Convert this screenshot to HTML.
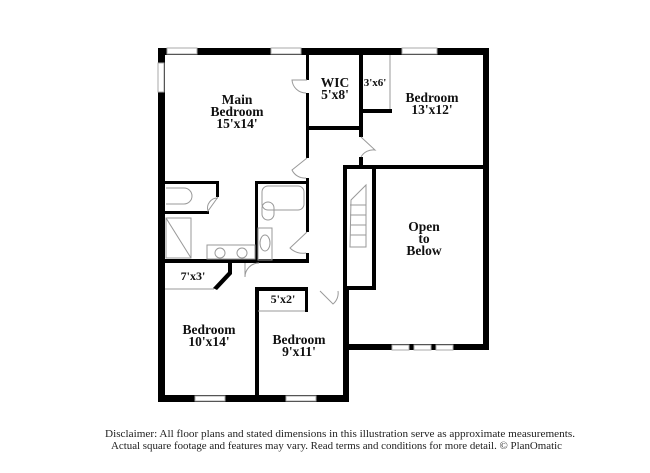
<!DOCTYPE html>
<html><head><meta charset="utf-8"><style>
html,body{margin:0;padding:0;background:#fff;width:650px;height:473px;overflow:hidden}
svg{display:block}
text{font-family:"Liberation Serif",serif}
.l{font-weight:bold;font-size:13.5px;fill:#111;text-anchor:middle}
</style></head><body>
<svg width="650" height="473" viewBox="0 0 650 473" xmlns="http://www.w3.org/2000/svg">
<g fill="#000">
<rect x="158" y="48" width="331" height="7"/>
<rect x="158" y="48" width="7" height="354"/>
<rect x="483" y="48" width="6" height="302"/>
<rect x="343" y="344" width="146" height="6"/>
<rect x="343" y="288" width="6" height="114"/>
<rect x="158" y="395" width="191" height="7"/>
<rect x="306" y="55" width="3" height="25"/>
<rect x="306" y="93" width="3" height="65"/>
<rect x="306" y="178" width="3" height="54"/>
<rect x="306" y="253" width="3" height="10"/>
<rect x="306" y="126" width="56" height="4"/>
<rect x="359" y="55" width="4" height="82"/>
<rect x="359" y="157" width="4" height="10"/>
<rect x="362" y="109" width="30" height="4"/>
<rect x="343" y="165" width="145" height="4"/>
<rect x="343" y="167" width="4" height="123"/>
<rect x="372" y="167" width="4" height="123"/>
<rect x="343" y="286" width="33" height="4"/>
<rect x="165" y="181" width="54" height="3"/>
<rect x="216" y="181" width="3" height="16"/>
<rect x="165" y="211" width="44" height="3"/>
<rect x="255" y="181" width="53" height="3"/>
<rect x="255" y="181" width="3" height="82"/>
<rect x="165" y="259" width="143" height="4"/>
<rect x="228" y="262" width="4" height="12"/>
<polygon points="228,272 232,274 217,290 213,288"/>
<rect x="255" y="288" width="4" height="112"/>
<rect x="255" y="287" width="53" height="4"/>
<rect x="305" y="287" width="3" height="25"/>
</g>
<g fill="#fff" stroke="#aaa" stroke-width="1">
<rect x="167" y="48" width="30" height="6"/>
<rect x="271" y="48" width="30" height="6"/>
<rect x="402" y="48" width="35" height="6"/>
<rect x="158" y="63" width="6" height="29"/>
<rect x="392" y="345" width="17" height="5"/>
<rect x="414" y="345" width="17" height="5"/>
<rect x="436" y="345" width="17" height="5"/>
<rect x="195" y="396" width="30" height="5"/>
<rect x="286" y="396" width="30" height="5"/>
</g>
<g fill="none" stroke="#999" stroke-width="1">
<line x1="390" y1="55" x2="390" y2="109"/>
<line x1="165" y1="289" x2="214" y2="289"/>
<line x1="258" y1="311" x2="305" y2="311"/>
<path d="M307 80 L292 80 A14 14 0 0 0 306 93"/>
<path d="M307 158 L292 170 A14 14 0 0 0 306 178"/>
<path d="M307 232 L290 248 A18 18 0 0 0 306 253"/>
<path d="M361 137 L375 150 A14 14 0 0 0 361 157"/>
<path d="M218 197 L208 211 A10 10 0 0 1 218 198"/>
<path d="M245 263 L245 277 A14 14 0 0 1 259 263"/>
<path d="M320 291 L333 304 A14 14 0 0 0 338 291"/>
<rect x="166" y="218" width="25" height="40"/>
<line x1="166" y1="218" x2="191" y2="258"/>
<rect x="207" y="245" width="48" height="14"/>
<circle cx="220" cy="253" r="5"/>
<circle cx="242" cy="253" r="5"/>
<rect x="262" y="186" width="42" height="24" rx="6"/>
<path d="M262 208 a6 6 0 0 1 12 0 v6 a6 6 0 0 1 -12 0z"/>
<rect x="258" y="228" width="14" height="32"/>
<ellipse cx="265" cy="243" rx="5" ry="8"/>
<path d="M166 188 h18 a8 8 0 0 1 0 16 h-18"/>
<path d="M351 200 L366 185 L366 247 L350 247 Z"/>
<line x1="350" y1="205" x2="366" y2="205"/><line x1="350" y1="215" x2="366" y2="215"/>
<line x1="350" y1="225" x2="366" y2="225"/><line x1="350" y1="235" x2="366" y2="235"/>
</g>
<text class="l" x="237" y="104">Main</text>
<text class="l" x="237" y="116">Bedroom</text>
<text class="l" x="237" y="128">15'x14'</text>
<text class="l" x="335" y="87">WIC</text>
<text class="l" x="335" y="99">5'x8'</text>
<text class="l" x="375" y="86" style="font-size:11px">3'x6'</text>
<text class="l" x="432" y="102">Bedroom</text>
<text class="l" x="432" y="114">13'x12'</text>
<text class="l" x="424" y="231">Open</text>
<text class="l" x="424" y="243">to</text>
<text class="l" x="424" y="255">Below</text>
<text class="l" x="193" y="280" style="font-size:12px">7'x3'</text>
<text class="l" x="283" y="303" style="font-size:12px">5'x2'</text>
<text class="l" x="209" y="334">Bedroom</text>
<text class="l" x="209" y="346">10'x14'</text>
<text class="l" x="299" y="344">Bedroom</text>
<text class="l" x="299" y="356">9'x11'</text>
<text x="105" y="437" font-size="10" fill="#222" textLength="470" lengthAdjust="spacingAndGlyphs">Disclaimer: All floor plans and stated dimensions in this illustration serve as approximate measurements.</text>
<text x="111" y="449" font-size="10" fill="#222" textLength="451" lengthAdjust="spacingAndGlyphs">Actual square footage and features may vary. Read terms and conditions for more detail. © PlanOmatic</text>
</svg>
</body></html>
